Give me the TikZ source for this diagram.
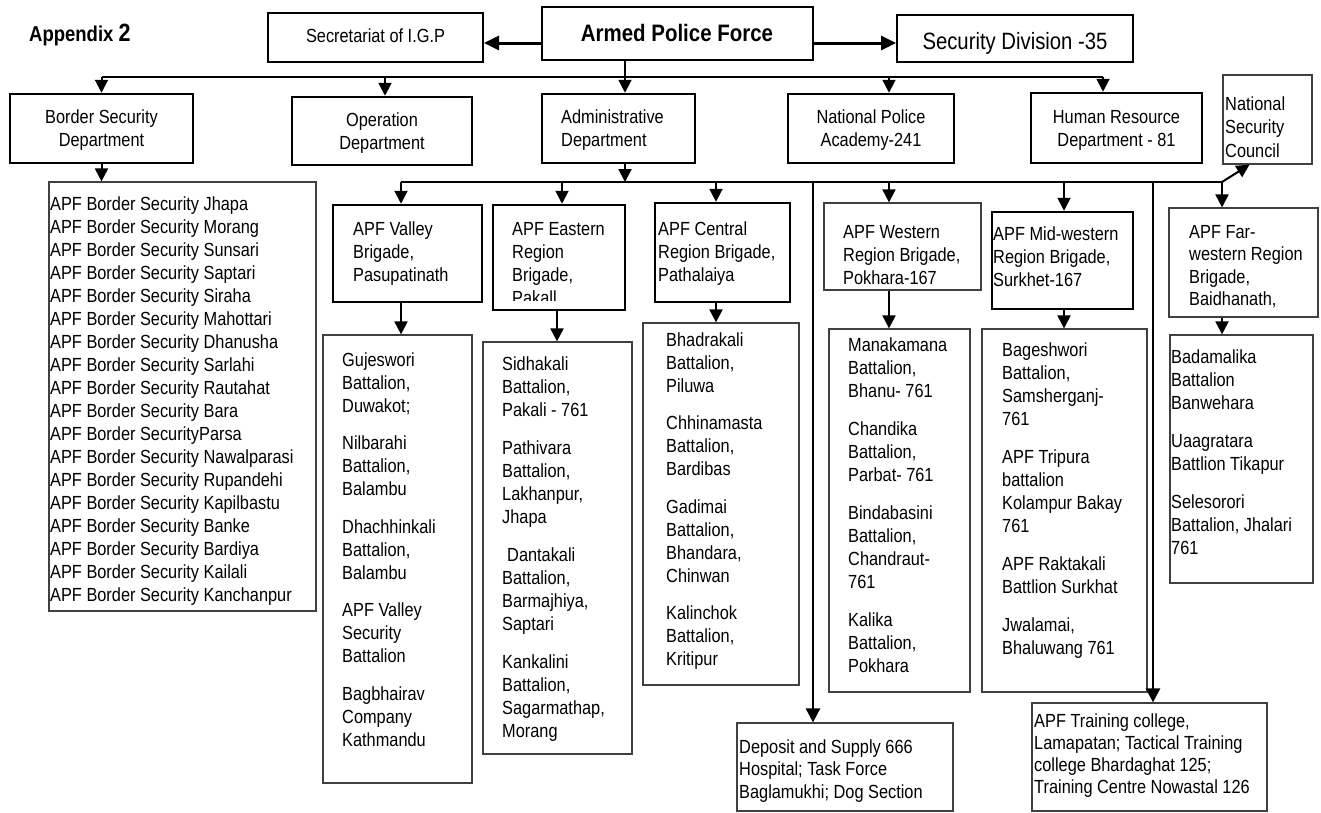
\documentclass[tikz,border=0pt]{standalone}
\usepackage{fontspec}
\setmainfont{Liberation Sans}[FakeStretch=0.86]
\usetikzlibrary{arrows.meta,fit}
\newcommand\LeftLines[2][23pt]{\vtop{\baselineskip=#1\lineskiplimit=-30pt\lineskip=0pt\halign{##\hfil\cr#2\crcr}}}
\newcommand\CenterLines[2][23pt]{\vtop{\baselineskip=#1\lineskiplimit=-30pt\lineskip=0pt\halign{\hfil##\hfil\cr#2\crcr}}}
\newcommand\GAP[1]{\noalign{\vskip#1}}
\begin{document}
\begin{tikzpicture}[x=1pt,y=-1pt,
  boxA/.style={draw, line width=2.5pt, inner sep=0pt},
  boxB/.style={draw, line width=2pt, inner sep=0pt},
  boxC/.style={draw=black!75, line width=1.2pt, inner sep=0pt},
  txt/.style={inner sep=0pt, font=\fontsize{19}{23}\selectfont},
  ln/.style={line width=2pt},
  arr/.style={-{Triangle[length=13pt,width=13pt]}, line width=2pt},
  arrL/.style={-{Triangle[length=14pt,width=14pt]}, line width=2.6pt},
  bigarr/.style={-{Triangle[length=15pt,width=14pt]}, line width=3pt}]
\useasboundingbox (0,0) rectangle (1321,812);

% ---------- boxes ----------
\node[boxB, fit={(268,13) (483,62)}] (sec) {};
\node[boxA, fit={(542,7) (813,60)}] (apf) {};
\node[boxB, fit={(897,15) (1133,62)}] (secdiv) {};

\node[boxA, fit={(10,94) (193,163)}] (border) {};
\node[boxA, fit={(292,97) (472,165)}] (op) {};
\node[boxA, fit={(542,94) (695,163)}] (admin) {};
\node[boxA, fit={(788,94) (954,163)}] (npa) {};
\node[boxA, fit={(1031,93) (1202,163)}] (hr) {};
\node[boxC, fit={(1223,75) (1312,164)}] (nsc) {};

\node[boxC, fit={(49,182) (316,611)}] (blist) {};

\node[boxA, fit={(333,205) (482,302)}] (valley) {};
\node[boxA, fit={(493,205) (625,310)}] (eastern) {};
\node[boxA, fit={(655,203) (790,302)}] (central) {};
\node[boxC, fit={(824,203) (981,290)}] (western) {};
\node[boxA, fit={(992,212) (1133,309)}] (midwest) {};
\node[boxC, fit={(1169,208) (1318,317)}] (farwest) {};

\node[boxC, fit={(323,335) (472,783)}] (vlist) {};
\node[boxC, fit={(483,342) (632,754)}] (elist) {};
\node[boxC, fit={(643,323) (799,685)}] (clist) {};
\node[boxC, fit={(829,329) (970,692)}] (wlist) {};
\node[boxC, fit={(982,329) (1147,692)}] (mlist) {};
\node[boxC, fit={(1170,335) (1313,583)}] (flist) {};

\node[boxC, fit={(737,723) (953,811)}] (deposit) {};
\node[boxC, fit={(1032,703) (1267,811)}] (training) {};

% ---------- column coordinates ----------
\coordinate (ub) at (0,77);
\coordinate (lb) at (0,182);
\coordinate (cOp) at (385,0);
\coordinate (cAdm) at (625,0);
\coordinate (cNPA) at (889,0);
\coordinate (cHR) at (1103,0);
\coordinate (cV) at (401,0);
\coordinate (cE1) at (562,0);
\coordinate (cE2) at (557,0);
\coordinate (cC) at (716,0);
\coordinate (cW) at (889,0);
\coordinate (cM) at (1064,0);
\coordinate (cF) at (1222,0);
\coordinate (cDep) at (813,0);
\coordinate (cTr) at (1153,0);

% ---------- connectors ----------
\coordinate (apfL) at ([yshift=-9.5pt]apf.west);
\coordinate (apfR) at ([yshift=-9.5pt]apf.east);
\draw[bigarr] (apfL) -- (apfL -| sec.east);
\draw[bigarr] (apfR) -- (apfR -| secdiv.west);

\draw[ln] (border.north |- ub) -- (cHR |- ub);
\draw[arr] (border.north |- ub) -- (border.north);
\draw[arr] (cOp |- ub) -- (cOp |- op.north);
\draw[arr] (cAdm |- apf.south) -- (cAdm |- admin.north);
\draw[arr] (cNPA |- ub) -- (cNPA |- npa.north);
\draw[arr] (cHR |- ub) -- (cHR |- hr.north);

\draw[arr] (border.south) -- (border.south |- blist.north);

\draw[arr] (cAdm |- admin.south) -- (cAdm |- lb);
\draw[ln] (cV |- lb) -- (cF |- lb);
\draw[arr] (cV |- lb) -- (cV |- valley.north);
\draw[arr] (cE1 |- lb) -- (cE1 |- eastern.north);
\draw[arr] (cC |- lb) -- (cC |- central.north);
\draw[arr] (cW |- lb) -- (cW |- western.north);
\draw[arr] (cM |- lb) -- (cM |- midwest.north);
\draw[arr] (cF |- lb) -- (cF |- farwest.north);
\draw[arr] (cF |- lb) -- ([xshift=-18pt]nsc.south);
\draw[arrL] (cDep |- lb) -- (cDep |- deposit.north);
\draw[arrL] (cTr |- lb) -- (cTr |- training.north);

\draw[arr] (cV |- valley.south) -- (cV |- vlist.north);
\draw[arr] (cE2 |- eastern.south) -- (cE2 |- elist.north);
\draw[arr] (cC |- central.south) -- (cC |- clist.north);
\draw[arr] (cW |- western.south) -- (cW |- wlist.north);
\draw[arr] (cM |- midwest.south) -- (cM |- mlist.north);
\draw[arr] (cF |- farwest.south) -- (cF |- flist.north);

% ---------- texts ----------
\node[txt, anchor=base west] (t-app) at (29,41) {\bfseries\fontsize{21.5}{24}\selectfont Appendix \fontsize{25}{28}\selectfont 2};
\node[txt, anchor=base] (t-sec) at (375.5,42.5) {Secretariat of I.G.P};
\node[txt, anchor=base] (t-apf) at (677,41) {\bfseries\fontsize{23.8}{26}\selectfont Armed Police Force};
\node[txt, anchor=base] (t-sd) at (1015,49.5) {\fontsize{23.6}{26}\selectfont Security Division -35};

\node[txt, anchor=base] (t-border) at (101.5,123) {\CenterLines{Border Security\cr Department}};
\node[txt, anchor=base] (t-op) at (382,126) {\CenterLines{Operation\cr Department}};
\node[txt, anchor=base west] (t-admin) at (561,123) {\LeftLines{Administrative\cr Department}};
\node[txt, anchor=base] (t-npa) at (871,123) {\CenterLines{National Police\cr Academy-241}};
\node[txt, anchor=base] (t-hr) at (1116.5,123) {\CenterLines{Human Resource\cr Department - 81}};
\node[txt, anchor=base west] (t-nsc) at (1225,110) {\LeftLines[23.5pt]{National\cr Security\cr Council}};

\node[txt, anchor=base west] (t-blist) at (50,210) {\LeftLines{APF Border Security Jhapa\cr
APF Border Security Morang\cr
APF Border Security Sunsari\cr
APF Border Security Saptari\cr
APF Border Security Siraha\cr
APF Border Security Mahottari\cr
APF Border Security Dhanusha\cr
APF Border Security Sarlahi\cr
APF Border Security Rautahat\cr
APF Border Security Bara\cr
APF Border SecurityParsa\cr
APF Border Security Nawalparasi\cr
APF Border Security Rupandehi\cr
APF Border Security Kapilbastu\cr
APF Border Security Banke\cr
APF Border Security Bardiya\cr
APF Border Security Kailali\cr
APF Border Security Kanchanpur}};

\node[txt, anchor=base west] (t-valley) at (353,235) {\LeftLines{APF Valley\cr Brigade,\cr Pasupatinath}};
\begin{scope}
\clip (493,205) rectangle (625,300.5);
\node[txt, anchor=base west] (t-eastern) at (512,235) {\LeftLines{APF Eastern\cr Region\cr Brigade,\cr Pakall}};
\end{scope}
\node[txt, anchor=base west] (t-central) at (658,235) {\LeftLines{APF Central\cr Region Brigade,\cr Pathalaiya}};
\node[txt, anchor=base west] (t-western) at (843,238) {\LeftLines{APF Western\cr Region Brigade,\cr Pokhara-167}};
\node[txt, anchor=base west] (t-midwest) at (993,240) {\LeftLines{APF Mid-western\cr Region Brigade,\cr Surkhet-167}};
\node[txt, anchor=base west] (t-farwest) at (1189,238) {\LeftLines[22.5pt]{APF Far-\cr western Region\cr Brigade,\cr Baidhanath,}};

\node[txt, anchor=base west] (t-vlist) at (342,366) {\LeftLines{Gujeswori\cr Battalion,\cr Duwakot;\cr\GAP{14.5pt}
Nilbarahi\cr Battalion,\cr Balambu\cr\GAP{14.5pt}
Dhachhinkali\cr Battalion,\cr Balambu\cr\GAP{14.5pt}
APF Valley\cr Security\cr Battalion\cr\GAP{14.5pt}
Bagbhairav\cr Company\cr Kathmandu}};

\node[txt, anchor=base west] (t-elist) at (502,370) {\LeftLines{Sidhakali\cr Battalion,\cr Pakali - 761\cr\GAP{15pt}
Pathivara\cr Battalion,\cr Lakhanpur,\cr Jhapa\cr\GAP{15pt}
\kern5pt Dantakali\cr Battalion,\cr Barmajhiya,\cr Saptari\cr\GAP{15pt}
Kankalini\cr Battalion,\cr Sagarmathap,\cr Morang}};

\node[txt, anchor=base west] (t-clist) at (666,346) {\LeftLines{Bhadrakali\cr Battalion,\cr Piluwa\cr\GAP{14.5pt}
Chhinamasta\cr Battalion,\cr Bardibas\cr\GAP{14.5pt}
Gadimai\cr Battalion,\cr Bhandara,\cr Chinwan\cr\GAP{14.5pt}
Kalinchok\cr Battalion,\cr Kritipur}};

\node[txt, anchor=base west] (t-wlist) at (848,351) {\LeftLines{Manakamana\cr Battalion,\cr Bhanu- 761\cr\GAP{15pt}
Chandika\cr Battalion,\cr Parbat- 761\cr\GAP{15pt}
Bindabasini\cr Battalion,\cr Chandraut-\cr 761\cr\GAP{15pt}
Kalika\cr Battalion,\cr Pokhara}};

\node[txt, anchor=base west] (t-mlist) at (1002,356) {\LeftLines{Bageshwori\cr Battalion,\cr Samsherganj-\cr 761\cr\GAP{15pt}
APF Tripura\cr battalion\cr Kolampur Bakay\cr 761\cr\GAP{15pt}
APF Raktakali\cr Battlion Surkhat\cr\GAP{15pt}
Jwalamai,\cr Bhaluwang 761}};

\node[txt, anchor=base west] (t-flist) at (1171,363) {\LeftLines{Badamalika\cr Battalion\cr Banwehara\cr\GAP{15pt}
Uaagratara\cr Battlion Tikapur\cr\GAP{15pt}
Selesorori\cr Battalion, Jhalari\cr 761}};

\node[txt, anchor=base west] (t-deposit) at (739,753) {\LeftLines[22.5pt]{Deposit and Supply 666\cr Hospital; Task Force\cr Baglamukhi; Dog Section}};
\node[txt, anchor=base west] (t-training) at (1034,727) {\LeftLines[22pt]{APF Training college,\cr Lamapatan; Tactical Training\cr college Bhardaghat 125;\cr Training Centre Nowastal 126}};
\end{tikzpicture}
\end{document}
